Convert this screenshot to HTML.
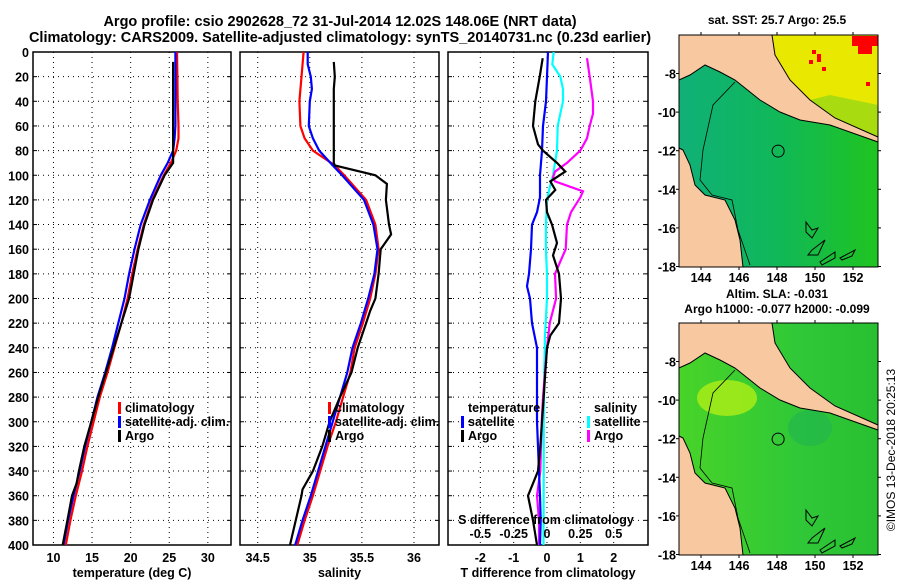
<!DOCTYPE html>
<html><head><meta charset="utf-8">
<style>
html,body{margin:0;padding:0;background:#fff;}
svg{display:block;font-family:"Liberation Sans",Arial,sans-serif;font-weight:bold;}
</style></head>
<body>
<svg id="chart" width="900" height="580" viewBox="0 0 900 580" xmlns="http://www.w3.org/2000/svg">
<text x="340" y="26" font-size="14.5" text-anchor="middle">Argo profile: csio 2902628_72 31-Jul-2014 12.02S 148.06E (NRT data)</text>
<text x="340" y="42" font-size="14.5" text-anchor="middle">Climatology: CARS2009. Satellite-adjusted climatology: synTS_20140731.nc (0.23d earlier)</text>
<g id="p1"></g>
<g id="p2"></g>
<g id="p3"></g>
<g id="maps"></g>
<text transform="translate(895,450) rotate(-90)" font-size="12" font-weight="normal" text-anchor="middle">©IMOS 13-Dec-2018 20:25:13</text>
</svg>
<script>
// ---- data ----
const depthTicks=[0,20,40,60,80,100,120,140,160,180,200,220,240,260,280,300,320,340,360,380,400];
const tempTicks=[10,15,20,25,30];
const salTicks=[34.5,35,35.5,36];
const tdiffTicks=[-2,-1,0,1,2];
const sdiffTickLabels=["-0.5","-0.25","0","0.25","0.5"];
const sdiffTicks=[-0.5,-0.25,0,0.25,0.5];

const tClimDepth=[0,20,40,60,70,80,90,100,120,140,160,180,200,220,240,260,280,300,320,340,360,380,400];
const tClim=[26.0,26.05,26.1,26.2,26.2,25.9,25.2,24.3,22.8,21.7,20.9,20.2,19.6,18.8,17.9,17.0,16.0,15.2,14.4,13.7,12.9,12.2,11.6];
const tSatDepth=[0,20,40,60,70,80,90,100,120,140,160,180,200,220,240,260,280,300,320,340,360,380,400];
const tSat=[25.8,25.8,25.8,25.8,25.7,25.5,24.8,23.9,22.5,21.3,20.5,19.8,19.2,18.4,17.6,16.7,15.7,14.9,14.1,13.4,12.6,11.9,11.3];
const tArgoDepth=[8,20,40,60,80,90,100,120,140,160,180,200,220,240,260,280,300,320,340,350,360,380,400];
const tArgo=[25.5,25.5,25.5,25.5,25.5,25.5,24.4,22.9,21.8,21.0,20.4,19.8,18.8,17.8,16.8,15.8,14.9,14.0,13.3,13.0,12.4,11.8,11.2];

const sClimDepth=[0,20,40,60,70,80,92,100,120,140,160,180,200,220,240,260,280,300,320,340,360,380,400];
const sClim=[34.94,34.92,34.90,34.91,34.95,35.03,35.24,35.33,35.54,35.63,35.66,35.63,35.58,35.51,35.43,35.39,35.32,35.25,35.17,35.10,35.03,34.95,34.88];
const sSatDepth=[0,10,20,30,40,60,70,80,92,100,120,140,160,180,200,220,240,260,280,300,320,340,360,380,400];
const sSat=[34.98,34.98,35.01,35.02,35.00,34.99,35.03,35.09,35.22,35.31,35.52,35.61,35.65,35.62,35.56,35.49,35.41,35.36,35.29,35.22,35.15,35.08,35.01,34.93,34.86];
const sArgoDepth=[8,20,30,90,92,100,107,120,140,148,160,180,200,210,220,240,260,280,300,320,340,355,360,400];
const sArgo=[35.23,35.24,35.23,35.23,35.24,35.63,35.74,35.73,35.76,35.78,35.68,35.66,35.63,35.58,35.54,35.46,35.40,35.29,35.19,35.12,35.03,34.93,34.92,34.81];

const dTArgoDepth=[5,20,40,60,75,80,90,97,105,112,120,130,140,155,165,180,200,220,230,240,260,280,300,320,340,350,360,380,400];
const dTArgo=[-0.13,-0.22,-0.35,-0.42,-0.27,-0.12,0.3,0.55,0.1,0.25,-0.03,0.0,0.15,0.3,0.18,0.36,0.42,0.36,0.1,0.0,-0.05,-0.1,-0.15,-0.2,-0.27,-0.42,-0.57,-0.42,-0.3];
const dTSatDepth=[0,20,40,60,80,100,118,130,140,160,180,190,200,220,240,260,280,300,320,340,360,380,400];
const dTSat=[0.03,0.0,-0.03,-0.12,-0.15,-0.21,-0.21,-0.3,-0.45,-0.48,-0.54,-0.6,-0.51,-0.45,-0.3,-0.3,-0.3,-0.3,-0.27,-0.24,-0.21,-0.19,-0.21];
const dSSatDepth=[0,10,20,30,40,55,60,80,100,110,120,140,160,180,200,230,260,300,340,400];
const dSSat=[0.05,0.04,0.10,0.12,0.12,0.09,0.08,0.075,0.045,0.02,0.0,-0.008,-0.008,0.0,0.0,-0.015,-0.02,-0.025,-0.025,-0.026];
const dSArgoDepth=[5,20,40,50,60,70,80,90,97,102,105,113,118,130,140,160,170,180,200,220,240,260,280,300,340,360,380,400];
const dSArgo=[0.30,0.32,0.345,0.345,0.32,0.30,0.25,0.15,0.06,0.045,0.06,0.27,0.25,0.18,0.15,0.14,0.10,0.06,0.068,0.02,0.0,-0.015,-0.03,-0.04,-0.05,-0.075,-0.06,-0.06];

const mapLonTicks=[144,146,148,150,152];
const mapLatTicks=[-8,-10,-12,-14,-16,-18];
const argoLon=148.06, argoLat=-12.02;

// ---- helpers ----
const NS="http://www.w3.org/2000/svg";
function mk(parent,tag,attrs){const e=document.createElementNS(NS,tag);for(const k in attrs)e.setAttribute(k,attrs[k]);parent.appendChild(e);return e;}
const Y0=52,Y1=545;
const yD=d=>Y0+(Y1-Y0)*d/400;

function panel(g,x0,x1,vmin,vmax,ticks,labels,xtitle,showY){
  const xs=v=>x0+(x1-x0)*(v-vmin)/(vmax-vmin);
  depthTicks.forEach(d=>{
    const gl=mk(g,'line',{x1:x0,x2:x1,y1:yD(d),y2:yD(d),stroke:'#000','stroke-width':1,'stroke-dasharray':'1,4'});
    
    
    const tk=mk(g,'line',{x1:x0,x2:x0+4,y1:yD(d),y2:yD(d),stroke:'#000'});
    
    
    const tk2=mk(g,'line',{x1:x1-4,x2:x1,y1:yD(d),y2:yD(d),stroke:'#000'});
    
    
    if(showY){const t=mk(g,'text',{x:x0-4,y:yD(d)+5,'font-size':12.5,'text-anchor':'end'});t.textContent=d;
      
      }
  });
  ticks.forEach((v,i)=>{
    const gl=mk(g,'line',{x1:xs(v),x2:xs(v),y1:Y0,y2:Y1,stroke:'#000','stroke-width':1,'stroke-dasharray':'1,4'});
    
    
    const t=mk(g,'text',{x:xs(v),y:562,'font-size':12.5,'text-anchor':'middle'});t.textContent=labels[i];
    
    
  });
  const fr=mk(g,'rect',{x:x0,y:Y0,width:x1-x0,height:Y1-Y0,fill:'none',stroke:'#000','stroke-width':1.5});
  
  
  const tt=mk(g,'text',{x:(x0+x1)/2,y:577,'font-size':12.5,'text-anchor':'middle'});tt.textContent=xtitle;
  
  
  return xs;
}
function series(g,xs,depths,vals,color,name){
  const pts=depths.map((d,i)=>xs(vals[i]).toFixed(1)+','+yD(d).toFixed(1)).join(' ');
  const p=mk(g,'polyline',{points:pts,fill:'none',stroke:color,'stroke-width':2.2});
  
  
}
function legend(g,x,y,color,label,name){
  if(color){const b=mk(g,'rect',{x:x-7,y:y-10,width:3,height:12,fill:color});
    
    }
  const t=mk(g,'text',{x:x,y:y,'font-size':12.5});t.textContent=label;
  
  
}

// panel 1
const g1=document.getElementById('p1');
const x1s=panel(g1,33,231,7.35,33.0,tempTicks,tempTicks.map(String),'temperature (deg C)',true);
series(g1,x1s,tClimDepth,tClim,'#ff0000','temp-climatology-line');
series(g1,x1s,tSatDepth,tSat,'#0000ff','temp-satellite-line');
series(g1,x1s,tArgoDepth,tArgo,'#000000','temp-argo-line');
legend(g1,125,412,'#ff0000','climatology','legend-climatology');
legend(g1,125,426,'#0000ff','satellite-adj. clim.','legend-satellite');
legend(g1,125,440,'#000000','Argo','legend-argo');

// panel 2
const g2=document.getElementById('p2');
const x2s=panel(g2,240,439,34.33,36.24,salTicks,salTicks.map(String),'salinity',false);
series(g2,x2s,sClimDepth,sClim,'#ff0000','sal-climatology-line');
series(g2,x2s,sSatDepth,sSat,'#0000ff','sal-satellite-line');
series(g2,x2s,sArgoDepth,sArgo,'#000000','sal-argo-line');
legend(g2,335,412,'#ff0000','climatology','legend-climatology');
legend(g2,335,426,'#0000ff','satellite-adj. clim.','legend-satellite');
legend(g2,335,440,'#000000','Argo','legend-argo');

// panel 3
const g3=document.getElementById('p3');
const x3s=panel(g3,448,648,-2.97,3.03,tdiffTicks,tdiffTicks.map(String),'T difference from climatology',false);
const x3sS=v=>x3s(v*4);
series(g3,x3sS,dSSatDepth,dSSat,'#00ffff','sdiff-satellite-line');
series(g3,x3sS,dSArgoDepth,dSArgo,'#ff00ff','sdiff-argo-line');
series(g3,x3s,dTSatDepth,dTSat,'#0000ff','tdiff-satellite-line');
series(g3,x3s,dTArgoDepth,dTArgo,'#000000','tdiff-argo-line');
legend(g3,468,412,null,'temperature','legend-temperature-header');
legend(g3,468,426,'#0000ff','satellite','legend-t-satellite');
legend(g3,468,440,'#000000','Argo','legend-t-argo');
legend(g3,594,412,null,'salinity','legend-salinity-header');
legend(g3,594,426,'#00ffff','satellite','legend-s-satellite');
legend(g3,594,440,'#ff00ff','Argo','legend-s-argo');
const st=mk(g3,'text',{x:546,y:524,'font-size':12.5,'text-anchor':'middle'});st.textContent='S difference from climatology';


sdiffTicks.forEach((v,i)=>{
  const t=mk(g3,'text',{x:x3sS(v),y:538,'font-size':12.5,'text-anchor':'middle'});t.textContent=sdiffTickLabels[i];
  
  
});

// maps
const gm=document.getElementById('maps');
function map(top,title,sub,kind){
  const L=679,R=878,T=top,B=top+232;
  const lx=lon=>701+19*(lon-144);
  const ly=lat=>T+38.5+19.3*(-8-lat);
  const defs=mk(gm,'defs',{});
  const gid='grad'+kind;
  const gr=mk(defs,'linearGradient',{id:gid,x1:0,y1:0,x2:1,y2:0});
  if(kind==='sst'){
    mk(gr,'stop',{offset:0,'stop-color':'#10b078'});mk(gr,'stop',{offset:0.5,'stop-color':'#10b858'});mk(gr,'stop',{offset:1,'stop-color':'#20c420'});
  } else {
    mk(gr,'stop',{offset:0,'stop-color':'#48d428'});mk(gr,'stop',{offset:0.6,'stop-color':'#30c838'});mk(gr,'stop',{offset:1,'stop-color':'#28c030'});
  }
  const bg=mk(gm,'rect',{x:L,y:T,width:R-L,height:B-T,fill:'url(#'+gid+')'});
  
  
  const o=T-35;
  const P=a=>a.map(p=>p[0]+','+(p[1]+o)).join(' ');
  if(kind==='sst'){
    const y=mk(gm,'polygon',{points:P([[772,35],[878,35],[878,137],[835,118],[810,100],[790,80],[775,55]]),fill:'#e8e800'});
    
    
    const y2=mk(gm,'polygon',{points:P([[810,100],[830,95],[878,105],[878,137],[835,118]]),fill:'#a8dc10'});
    
    
    [[852,36,26,10],[858,46,14,8],[812,50,4,4],[817,54,4,8],[809,60,4,4],[822,67,4,4],[866,82,4,4]].forEach(r=>{
      const e=mk(gm,'rect',{x:r[0],y:r[1]+o,width:r[2],height:r[3],fill:'#ff0000'});
      
      
    });
    const c=mk(gm,'polygon',{points:P([[682,200],[690,195],[697,228],[705,240],[720,265],[742,267],[738,250],[728,235],[722,205],[703,196],[690,185]]),fill:'#00e8e8'});
    
    
  } else {
    const b=mk(gm,'ellipse',{cx:727,cy:110+o,rx:30,ry:18,fill:'#a8ec18','fill-opacity':0.85});
    
    
    const b2=mk(gm,'ellipse',{cx:810,cy:140+o,rx:22,ry:18,fill:'#20b450','fill-opacity':0.6});
    
    
  }
  const ng=mk(gm,'polygon',{points:P([[679,35],[772,35],[775,55],[790,80],[810,100],[835,118],[878,137],[878,142],[830,125],[800,120],[780,112],[760,100],[745,88],[735,80],[720,72],[705,65],[690,75],[679,80]]),fill:'#f8c8a0',stroke:'#000','stroke-width':1});
  
  
  const au=mk(gm,'polygon',{points:P([[679,148],[683,150],[690,165],[695,185],[705,195],[725,200],[735,220],[740,240],[743,267],[679,267]]),fill:'#f8c8a0',stroke:'#000','stroke-width':1});
  
  
  const iso=mk(gm,'polyline',{points:P([[735,82],[713,105],[703,150],[700,180],[712,195],[732,200],[738,230],[750,265]]),fill:'none',stroke:'#000','stroke-width':0.8});
  
  
  [[[806,222],[812,230],[818,228],[812,238],[806,232]],[[812,250],[825,240],[818,255],[808,255]],[[820,262],[835,252],[835,258],[822,265]],[[840,258],[855,250],[852,256],[842,260]]].forEach(pp=>{
    const e=mk(gm,'polygon',{points:P(pp),fill:'none',stroke:'#000','stroke-width':1});
    
    
  });
  const circ=mk(gm,'circle',{cx:lx(argoLon),cy:ly(argoLat),r:6,fill:'none',stroke:'#000','stroke-width':1});
  
  
  const fr=mk(gm,'rect',{x:L,y:T,width:R-L,height:B-T,fill:'none',stroke:'#000','stroke-width':1});
  
  
  mapLonTicks.forEach(v=>{
    mk(gm,'line',{x1:lx(v),x2:lx(v),y1:T-3,y2:T,stroke:'#000'});
    mk(gm,'line',{x1:lx(v),x2:lx(v),y1:B,y2:B+3,stroke:'#000'});
    const t=mk(gm,'text',{x:lx(v),y:B+15,'font-size':12.5,'text-anchor':'middle'});t.textContent=v;
    
    
  });
  mapLatTicks.forEach(v=>{
    mk(gm,'line',{x1:R,x2:R+3,y1:ly(v),y2:ly(v),stroke:'#000'});
    mk(gm,'line',{x1:L-3,x2:L,y1:ly(v),y2:ly(v),stroke:'#000'});
    const t=mk(gm,'text',{x:676,y:ly(v)+5,'font-size':12.5,'text-anchor':'end'});t.textContent=v;
    
    
  });
  const t1=mk(gm,'text',{x:777,y:sub?top-25:top-11,'font-size':12,'text-anchor':'middle'});t1.textContent=title;
  
  
  if(sub){const t2=mk(gm,'text',{x:777,y:top-10,'font-size':12,'text-anchor':'middle'});t2.textContent=sub;
    
    }
}
map(35,'sat. SST: 25.7 Argo: 25.5',null,'sst');
map(323,'Altim. SLA: -0.031','Argo h1000: -0.077 h2000: -0.099','sla');
</script>
</body></html>
